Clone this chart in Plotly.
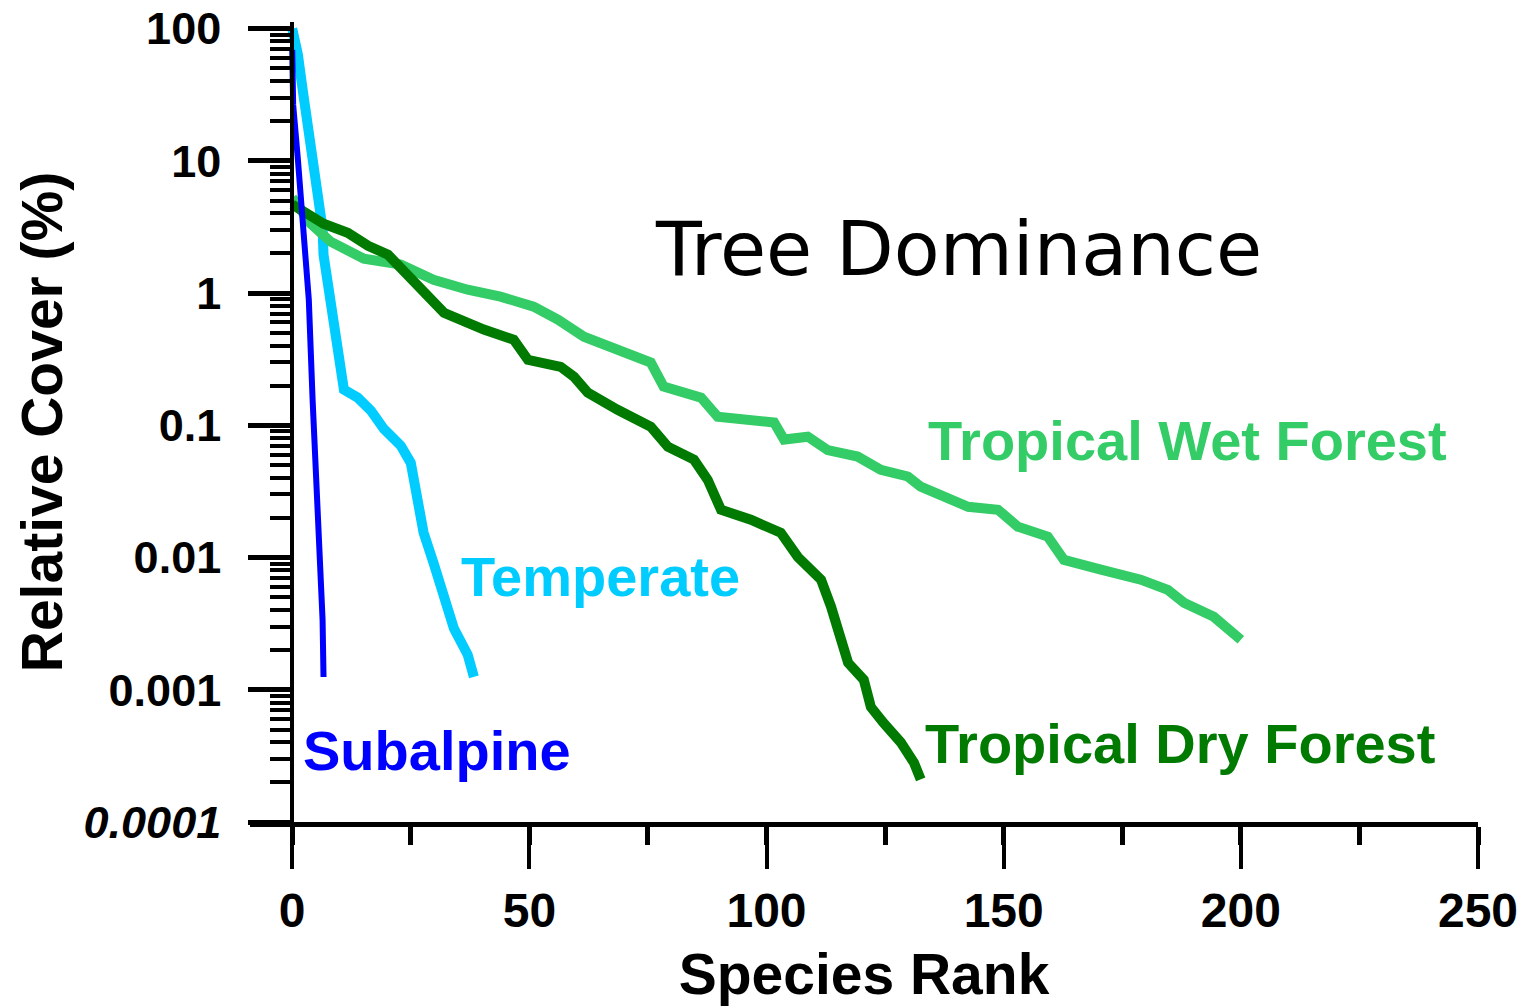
import plotly.graph_objects as go

# ---------------- data ----------------
subalpine_rank = [0, 0.2, 1.2, 2.4, 3.5, 4.3, 5.4, 6.4, 6.6]
subalpine_cover = [69, 26.6, 10.2, 3.0, 0.89, 0.156, 0.023, 0.0034, 0.00125]

temperate_rank = [0, 1.2, 2.2, 3.3, 4.3, 5.4, 6.4, 6.6, 7.7, 8.8, 9.8, 10.9, 13.8, 16.6,
                  19.3, 22.9, 25.0, 26.5, 27.7, 29.8, 32.0, 34.1, 37.0, 38.3]
temperate_cover = [100, 63.6, 34.6, 17.5, 9.7, 5.3, 3.07, 1.95, 1.06, 0.587, 0.319, 0.186,
                   0.162, 0.129, 0.094, 0.070, 0.052, 0.0283, 0.0154, 0.0091, 0.0053,
                   0.0029, 0.00184, 0.00125]

wet_rank = [0, 3.9, 8.1, 15.1, 22.9, 29.8, 37.0, 43.9, 50.9, 56.0, 61.5, 68.6, 75.6, 78.3,
            86.2, 89.7, 101.6, 103.7, 108.7, 112.9, 119.2, 124.1, 129.8, 132.5, 136.8,
            142.5, 148.8, 153.0, 159.3, 162.7, 170.5, 178.9, 184.6, 188.0, 194.3, 200.0]
wet_cover = [5.27, 3.35, 2.45, 1.82, 1.64, 1.26, 1.06, 0.94, 0.79, 0.63, 0.468, 0.373,
             0.298, 0.196, 0.162, 0.116, 0.105, 0.078, 0.082, 0.065, 0.058, 0.046, 0.041,
             0.0344, 0.0299, 0.0242, 0.0230, 0.0171, 0.0144, 0.0096, 0.0081, 0.0068,
             0.0057, 0.00455, 0.00356, 0.00239]

dry_rank = [0, 6.6, 11.7, 16.0, 20.2, 23.5, 27.1, 32.0, 40.4, 46.7, 49.7, 56.6, 59.4, 62.3,
            68.6, 75.6, 79.2, 84.7, 87.6, 90.4, 96.7, 103.0, 106.6, 111.5, 113.6, 115.1,
            117.2, 120.5, 122.0, 124.7, 128.3, 131.1, 132.5]
dry_cover = [4.67, 3.35, 2.86, 2.28, 1.95, 1.45, 1.06, 0.71, 0.53, 0.444, 0.313, 0.277,
             0.233, 0.177, 0.131, 0.0975, 0.0689, 0.055, 0.0387, 0.023, 0.0193, 0.0154,
             0.0101, 0.0068, 0.00425, 0.0027, 0.0016, 0.00119, 0.00074, 0.00056, 0.0004,
             0.00028, 0.00021]

x_tick_vals = [0, 50, 100, 150, 200, 250]
x_tick_text = ["0", "50", "100", "150", "200", "250"]
y_tick_vals = [0.0001, 0.001, 0.01, 0.1, 1, 10, 100]
y_tick_text = ["<i>0.0001</i>", "0.001", "0.01", "0.1", "1", "10", "100"]

# ---------------- styling ----------------
C_SUB = "#0000FF"
C_TEMP = "#00CCFF"
C_WET = "#33CC66"
C_DRY = "#007A00"
FONT = "Liberation Sans, Arial, sans-serif"

X_MIN, X_MAX = -8.9, 250
y_minor = [m * 10 ** e for e in range(-4, 2) for m in range(2, 10)]

fig = go.Figure()
fig.add_trace(go.Scatter(x=temperate_rank, y=temperate_cover, mode="lines",
                         line=dict(color=C_TEMP, width=10), name="Temperate"))
fig.add_trace(go.Scatter(x=wet_rank, y=wet_cover, mode="lines",
                         line=dict(color=C_WET, width=10), name="Tropical Wet Forest"))
fig.add_trace(go.Scatter(x=dry_rank, y=dry_cover, mode="lines",
                         line=dict(color=C_DRY, width=10), name="Tropical Dry Forest"))
fig.add_trace(go.Scatter(x=subalpine_rank, y=subalpine_cover, mode="lines",
                         line=dict(color=C_SUB, width=6), name="Subalpine"))

W, H = 1524, 1008
L, R, T, B = 250, 46, 22, 186
pw, ph = W - L - R, H - T - B


def px(xp):
    return (xp - L) / pw


def py(yp):
    return (H - B - yp) / ph


labels = [
    ("Tree Dominance", 958, 249, "black", dict(family="DejaVu Sans, sans-serif", size=75)),
    ("Tropical Wet Forest", 1187, 441, C_WET, dict(family=FONT, size=56, weight="bold")),
    ("Tropical Dry Forest", 1180, 743, C_DRY, dict(family=FONT, size=56, weight="bold")),
    ("Temperate", 600, 576, C_TEMP, dict(family=FONT, size=56, weight="bold")),
    ("Subalpine", 437, 750, C_SUB, dict(family=FONT, size=56, weight="bold")),
]
for text, xp, yp, col, f in labels:
    fig.add_annotation(text=text, x=px(xp), y=py(yp), xref="paper", yref="paper",
                       xanchor="center", yanchor="middle", showarrow=False,
                       font=dict(color=col, **f))

fig.update_layout(
    width=W, height=H,
    margin=dict(l=L, r=R, t=T, b=B, autoexpand=False),
    paper_bgcolor="white", plot_bgcolor="white",
    showlegend=False,
    xaxis=dict(
        range=[X_MIN, X_MAX], showgrid=False, zeroline=False,
        showline=True, linecolor="black", linewidth=5,
        ticks="outside", ticklen=42, tickwidth=4, tickcolor="black",
        tickmode="array", tickvals=x_tick_vals, ticktext=x_tick_text,
        tickfont=dict(family=FONT, size=48, color="black", weight="bold"),
        ticklabelstandoff=0,
        minor=dict(dtick=25, tick0=0, ticklen=18, tickwidth=5, tickcolor="black",
                   ticks="outside", showgrid=False),
        title=dict(text="Species Rank", standoff=20,
                   font=dict(family=FONT, size=57, color="black", weight="bold")),
    ),
    yaxis=dict(
        type="log", range=[-4, 2.05], showgrid=False, zeroline=False,
        anchor="free", position=(0 - X_MIN) / (X_MAX - X_MIN),
        showline=True, linecolor="black", linewidth=4,
        ticks="outside", ticklen=42, tickwidth=5, tickcolor="black",
        tickmode="array", tickvals=y_tick_vals, ticktext=y_tick_text,
        tickfont=dict(family=FONT, size=45, color="black", weight="bold"),
        ticklabelstandoff=18,
        minor=dict(tickmode="array", tickvals=y_minor, ticklen=20, tickwidth=4,
                   tickcolor="black", ticks="outside", showgrid=False),
        title=dict(text="Relative Cover (%)", standoff=2,
                   font=dict(family=FONT, size=57, color="black", weight="bold")),
    ),
)

fig.write_html("out.html")
